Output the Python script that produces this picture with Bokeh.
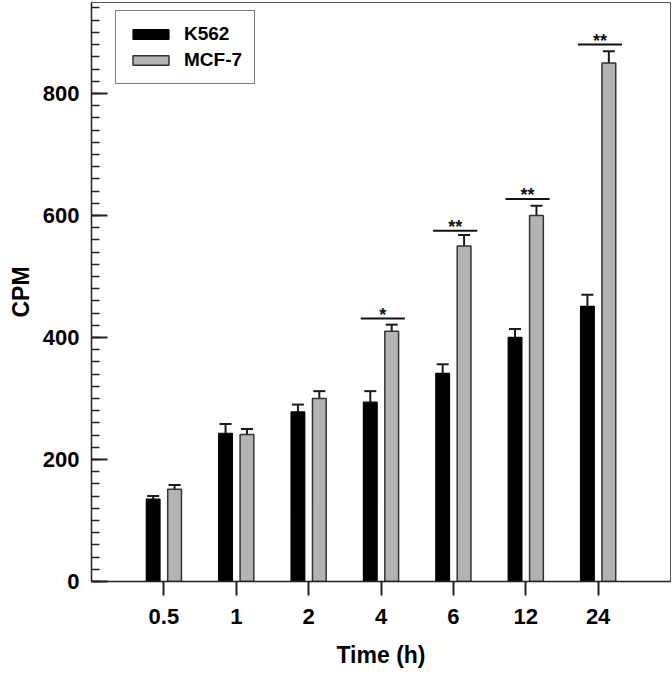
import numpy as np
from bokeh.plotting import figure
from bokeh.models import ColumnDataSource, Range1d, FixedTicker, Whisker, TeeHead
from bokeh.transform import dodge
from bokeh.embed import file_html
from bokeh.resources import INLINE

# ---- data ----
times = ["0.5", "1", "2", "4", "6", "12", "24"]
k562 = [135, 243, 278, 294, 341, 400, 451]
k562_err = [5, 15, 12, 18, 15, 14, 19]
mcf7 = [151, 241, 300, 410, 550, 600, 850]
mcf7_err = [7, 9, 12, 11, 18, 16, 19]
sig_times = ["4", "6", "12", "24"]
sig_labels = ["*", "**", "**", "**"]
sig_level = [431, 575, 627, 880]
y_major = [0, 200, 400, 600, 800]

FONT = "Liberation Sans"
x = [i + 1 for i in range(len(times))]
src = ColumnDataSource(dict(
    x=x, k=k562, k_up=[v + e for v, e in zip(k562, k562_err)],
    m=mcf7, m_up=[v + e for v, e in zip(mcf7, mcf7_err)],
))
sig_x = np.array([times.index(t) + 1 for t in sig_times], dtype=float)
sig_src = ColumnDataSource(dict(
    x0=sig_x - 0.28, x1=sig_x + 0.33, xc=sig_x + 0.025,
    y=sig_level, lab=sig_labels,
))

p = figure(width=672, height=678, output_backend="svg", toolbar_location=None,
           x_range=Range1d(0, 8), y_range=Range1d(0, 949),
           min_border_left=91, min_border_right=2, min_border_top=2,
           min_border_bottom=97)
p.xgrid.visible = False
p.ygrid.visible = False
p.outline_line_color = "#555555"
p.outline_line_width = 1
p.background_fill_color = "white"
p.border_fill_color = "white"

OFF = 0.148
W = 0.19
p.vbar(x=dodge("x", -OFF, range=p.x_range), top="k", width=W, source=src,
       fill_color="black", line_color="black", line_width=1.2,
       legend_label="K562")
p.vbar(x=dodge("x", OFF, range=p.x_range), top="m", width=W, source=src,
       fill_color="#b3b3b3", line_color="#333333", line_width=1.5,
       legend_label="MCF-7")

for col, up, off in (("k", "k_up", -OFF), ("m", "m_up", OFF)):
    w = Whisker(base=dodge("x", off, range=p.x_range), lower=col, upper=up,
                source=src, line_color="#1a1a1a", line_width=2,
                upper_head=TeeHead(size=12, line_width=2, line_color="#1a1a1a"),
                lower_head=None)
    p.add_layout(w)

p.segment(x0="x0", x1="x1", y0="y", y1="y", source=sig_src,
          line_color="#111111", line_width=2)
p.text(x="xc", y="y", text="lab", source=sig_src, text_align="center",
       text_baseline="alphabetic", text_font_size="18px", y_offset=-4,
       text_font_style="bold", text_color="#111111",
       text_font={"value": FONT})

# x axis
xa = p.xaxis[0]
xa.ticker = FixedTicker(ticks=x)
xa.major_label_overrides = {i: t for i, t in zip(x, times)}
xa.major_tick_out = 14
xa.major_tick_in = 0
xa.minor_tick_out = 0
xa.major_label_standoff = 13
xa.axis_label = "Time (h)"
xa.axis_label_standoff = 15

# y axis
ya = p.yaxis[0]
ya.ticker = FixedTicker(ticks=y_major, minor_ticks=list(range(0, 960, 20)))
ya.major_tick_in = 16
ya.major_tick_out = 0
ya.minor_tick_in = 8
ya.minor_tick_out = 0
ya.major_label_standoff = 12
ya.axis_label = "CPM"
ya.axis_label_standoff = 6

for ax in (xa, ya):
    ax.axis_line_color = "#222222"
    ax.axis_line_width = 1.5
    ax.major_tick_line_color = "#222222"
    ax.major_tick_line_width = 2
    ax.minor_tick_line_color = "#222222"
    ax.minor_tick_line_width = 1.5
    ax.major_label_text_font = FONT
    ax.major_label_text_font_style = "bold"
    ax.major_label_text_font_size = "22px"
    ax.major_label_text_color = "black"
    ax.axis_label_text_font = FONT
    ax.axis_label_text_font_style = "bold"
    ax.axis_label_text_font_size = "23px"
    ax.axis_label_text_color = "black"

lg = p.legend[0]
lg.location = (24, 497)
lg.margin = 0
lg.padding = 12
lg.spacing = 4
lg.glyph_width = 45
lg.glyph_height = 12
lg.label_height = 20
lg.label_standoff = 11
lg.label_text_font = FONT
lg.label_text_font_style = "bold"
lg.label_text_font_size = "19px"
lg.label_text_color = "black"
lg.border_line_color = "black"
lg.border_line_width = 1.5
lg.background_fill_color = "white"
lg.background_fill_alpha = 1.0

open("out.html", "w").write(file_html(p, INLINE))
